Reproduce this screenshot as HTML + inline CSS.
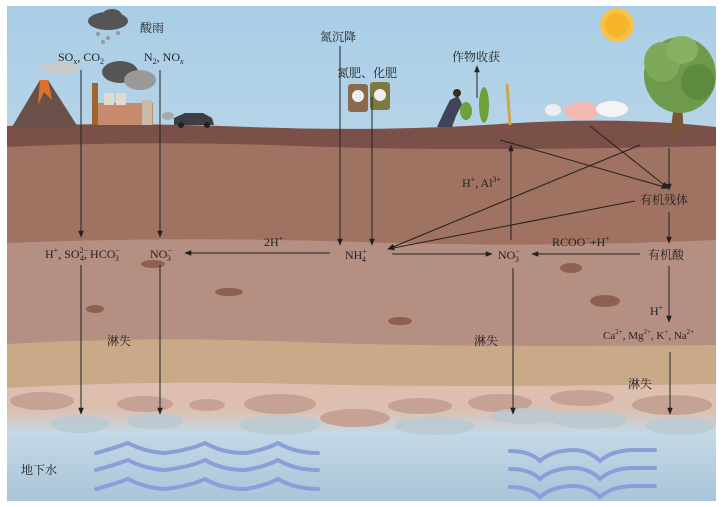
<!DOCTYPE html>
<html><head><meta charset="utf-8"><style>
html,body{margin:0;padding:0;background:#fff}
svg{display:block}
text{font-family:"Liberation Serif","Noto Serif CJK SC",serif;fill:#222}
</style></head><body>
<svg width="723" height="507" viewBox="0 0 723 507" xmlns="http://www.w3.org/2000/svg">
<defs>
<linearGradient id="sky" x1="0" y1="0" x2="0" y2="1"><stop offset="0" stop-color="#a9cde6"/><stop offset="1" stop-color="#dde9ef"/></linearGradient>
<linearGradient id="water" x1="0" y1="0" x2="0" y2="1"><stop offset="0" stop-color="#dcc0b0"/><stop offset="0.25" stop-color="#c4d8e6"/><stop offset="1" stop-color="#a9c5d8"/></linearGradient>
<marker id="a" viewBox="0 0 10 10" refX="9" refY="5" markerWidth="7" markerHeight="7" orient="auto-start-reverse"><path d="M0,1 L10,5 L0,9 z" fill="#222"/></marker>
</defs>
<rect x="7" y="6" width="709" height="495" fill="url(#sky)"/>
<path d="M7,126 Q120,122 250,127 T500,124 T716,127 V501 H7Z" fill="#7a5048"/>
<path d="M7,147 Q150,140 300,146 T716,146 V501 H7Z" fill="#9f7262"/>
<path d="M7,243 Q180,236 360,242 T716,240 V501 H7Z" fill="#b58f82"/>
<path d="M7,344 Q150,336 300,342 T716,345 V501 H7Z" fill="#c8aa88"/>
<path d="M7,388 Q150,380 300,384 T716,384 V501 H7Z" fill="#dcbfae"/>
<rect x="7" y="410" width="709" height="91" fill="url(#water)"/>
<g fill="#c6a295">
<ellipse cx="42" cy="401" rx="32" ry="9"/><ellipse cx="145" cy="404" rx="28" ry="8"/><ellipse cx="207" cy="405" rx="18" ry="6"/><ellipse cx="280" cy="404" rx="36" ry="10"/><ellipse cx="420" cy="406" rx="32" ry="8"/><ellipse cx="500" cy="403" rx="32" ry="9"/><ellipse cx="582" cy="398" rx="32" ry="8"/><ellipse cx="672" cy="405" rx="40" ry="10"/><ellipse cx="355" cy="418" rx="35" ry="9"/>
</g>
<g fill="#b9c9d2" opacity="0.8">
<ellipse cx="80" cy="424" rx="30" ry="9"/><ellipse cx="155" cy="421" rx="28" ry="8"/><ellipse cx="280" cy="425" rx="40" ry="10"/><ellipse cx="435" cy="426" rx="40" ry="9"/><ellipse cx="525" cy="416" rx="35" ry="8"/><ellipse cx="590" cy="420" rx="38" ry="9"/><ellipse cx="680" cy="426" rx="35" ry="9"/>
</g>
<g fill="#8f5f52">
<ellipse cx="153" cy="264" rx="12" ry="4"/><ellipse cx="95" cy="309" rx="9" ry="4"/><ellipse cx="229" cy="292" rx="14" ry="4"/><ellipse cx="400" cy="321" rx="12" ry="4"/><ellipse cx="571" cy="268" rx="11" ry="5"/><ellipse cx="605" cy="301" rx="15" ry="6"/>
</g>
<g fill="none" stroke="#8c9ed8" stroke-width="4" stroke-linecap="round">
<path d="M96,453 Q115,448 128,443 Q145,452 165,453 Q190,450 205,443 Q222,453 245,453 Q265,450 278,443 Q295,453 318,453"/>
<path d="M96,470 Q115,465 128,460 Q145,469 165,470 Q190,467 205,460 Q222,470 245,470 Q265,467 278,460 Q295,470 318,470"/>
<path d="M96,489 Q115,484 128,479 Q145,488 165,489 Q190,486 205,479 Q222,489 245,489 Q265,486 278,479 Q295,489 318,489"/>
<path d="M510,451 Q530,451 540,461 Q552,450 575,450 Q590,451 600,461 Q612,450 635,450 L655,450"/>
<path d="M510,469 Q530,469 540,479 Q552,468 575,468 Q590,469 600,479 Q612,468 635,468 L655,468"/>
<path d="M510,487 Q530,487 540,497 Q552,486 575,486 Q590,487 600,497 Q612,486 635,486 L655,486"/>
</g>
<path d="M12,127 L40,80 L48,80 L78,127Z" fill="#6a5048"/>
<path d="M40,80 L48,80 L52,100 L44,92 L38,105 Z" fill="#e0702a"/>
<ellipse cx="60" cy="68" rx="20" ry="6" fill="#c9c9c9"/>
<rect x="92" y="83" width="6" height="42" fill="#a0642e"/>
<rect x="98" y="103" width="55" height="22" fill="#c88a6c"/>
<rect x="104" y="93" width="10" height="12" fill="#e2d8ce"/><rect x="116" y="93" width="10" height="12" fill="#e2d8ce"/>
<rect x="142" y="100" width="10" height="25" fill="#c9b9a8"/>
<ellipse cx="120" cy="72" rx="18" ry="11" fill="#555"/><ellipse cx="140" cy="80" rx="16" ry="10" fill="#999"/>
<ellipse cx="108" cy="21" rx="20" ry="9" fill="#555"/><ellipse cx="112" cy="16" rx="10" ry="7" fill="#555"/>
<g fill="#999"><circle cx="98" cy="34" r="2"/><circle cx="108" cy="38" r="2"/><circle cx="118" cy="33" r="2"/><circle cx="103" cy="42" r="2"/></g>
<path d="M174,125 L174,118 L185,113 L203,113 L212,118 L214,125Z" fill="#3d3d44"/>
<circle cx="181" cy="125" r="3" fill="#222"/><circle cx="207" cy="125" r="3" fill="#222"/>
<ellipse cx="168" cy="116" rx="6" ry="4" fill="#aaa"/>
<rect x="348" y="84" width="20" height="28" rx="3" fill="#8a6a4f"/>
<rect x="370" y="82" width="20" height="28" rx="3" fill="#7e7a3e"/>
<circle cx="358" cy="96" r="6" fill="#eee"/><circle cx="380" cy="95" r="6" fill="#eee"/>
<circle cx="617" cy="25" r="17" fill="#f6c24a"/><circle cx="617" cy="25" r="12" fill="#f7b52a"/>
<path d="M437,127 L444,112 L450,100 L458,96 L462,104 L456,116 L452,127Z" fill="#3f4456"/>
<circle cx="457" cy="93" r="4" fill="#3b2a20"/>
<g fill="#6ea03c"><ellipse cx="466" cy="111" rx="6" ry="9"/><ellipse cx="484" cy="105" rx="5" ry="18"/></g>
<path d="M507,84 L510,125" stroke="#c9a74e" stroke-width="3"/>
<ellipse cx="553" cy="110" rx="8" ry="6" fill="#eee"/>
<ellipse cx="582" cy="111" rx="18" ry="9" fill="#f1b9b2"/>
<ellipse cx="612" cy="109" rx="16" ry="8" fill="#f4f4f4"/>
<path d="M676,90 L670,135 L684,135 L681,90Z" fill="#7a5538"/>
<ellipse cx="680" cy="75" rx="36" ry="38" fill="#6f9a4c"/><ellipse cx="662" cy="62" rx="18" ry="20" fill="#7ea95a"/><ellipse cx="698" cy="82" rx="17" ry="18" fill="#5d8a3f"/><ellipse cx="682" cy="50" rx="16" ry="14" fill="#86b062"/>
<g stroke="#222" stroke-width="1" fill="none" marker-end="url(#a)">
<line x1="81" y1="70" x2="81" y2="237"/>
<line x1="160" y1="70" x2="160" y2="237"/>
<line x1="340" y1="46" x2="340" y2="245"/>
<line x1="372" y1="97" x2="372" y2="245"/>
<line x1="477" y1="98" x2="477" y2="66"/>
<line x1="330" y1="253" x2="185" y2="253"/>
<line x1="392" y1="254" x2="492" y2="254"/>
<line x1="640" y1="254" x2="532" y2="254"/>
<line x1="511" y1="240" x2="511" y2="145"/>
<line x1="500" y1="140" x2="668" y2="188"/>
<line x1="590" y1="126" x2="668" y2="188"/>
<line x1="669" y1="148" x2="669" y2="190"/>
<line x1="635" y1="201" x2="388" y2="249"/>
<line x1="640" y1="145" x2="388" y2="249"/>
<line x1="669" y1="212" x2="669" y2="243"/>
<line x1="669" y1="266" x2="669" y2="322"/>
<line x1="670" y1="352" x2="670" y2="414"/>
<line x1="81" y1="265" x2="81" y2="414"/>
<line x1="160" y1="265" x2="160" y2="414"/>
<line x1="513" y1="268" x2="513" y2="414"/>
</g>
<g font-size="12">
<text x="140" y="32">酸雨</text>
<text x="58" y="61">SO<tspan font-size="8" dy="3">x</tspan><tspan dy="-3">, CO</tspan><tspan font-size="8" dy="3">2</tspan></text>
<text x="144" y="61">N<tspan font-size="8" dy="3">2</tspan><tspan dy="-3">, NO</tspan><tspan font-size="8" dy="3" font-style="italic">x</tspan></text>
<text x="320" y="41">氮沉降</text>
<text x="337" y="77">氮肥、化肥</text>
<text x="452" y="61">作物收获</text>
<text x="462" y="187">H<tspan font-size="8" dy="-5">+</tspan><tspan dy="5">, Al</tspan><tspan font-size="8" dy="-5">3+</tspan></text>
<text x="640" y="204">有机残体</text>
<text x="264" y="246">2H<tspan font-size="8" dy="-5">+</tspan></text>
<text x="552" y="246">RCOO<tspan font-size="8" dy="-5">−</tspan><tspan dy="5">+H</tspan><tspan font-size="8" dy="-5">+</tspan></text>
<text x="45" y="258">H<tspan font-size="8" dy="-5">+</tspan><tspan dy="5">, SO</tspan><tspan font-size="8" dy="-5">2−</tspan><tspan font-size="8" dx="-8" dy="8">4</tspan><tspan dy="-3">, HCO</tspan><tspan font-size="8" dy="-5">−</tspan><tspan font-size="8" dx="-5" dy="8">3</tspan></text>
<text x="150" y="258">NO<tspan font-size="8" dy="-5">−</tspan><tspan font-size="8" dx="-5" dy="8">3</tspan></text>
<text x="345" y="259">NH<tspan font-size="8" dy="-5">+</tspan><tspan font-size="8" dx="-5" dy="8">4</tspan></text>
<text x="498" y="259">NO<tspan font-size="8" dy="-5">−</tspan><tspan font-size="8" dx="-5" dy="8">3</tspan></text>
<text x="648" y="259">有机酸</text>
<text x="650" y="315">H<tspan font-size="8" dy="-5">+</tspan></text>
<text x="603" y="339" font-size="11">Ca<tspan font-size="7" dy="-5">2+</tspan><tspan dy="5">, Mg</tspan><tspan font-size="7" dy="-5">2+</tspan><tspan dy="5">, K</tspan><tspan font-size="7" dy="-5">+</tspan><tspan dy="5">, Na</tspan><tspan font-size="7" dy="-5">2+</tspan></text>
<text x="107" y="345">淋失</text>
<text x="474" y="345">淋失</text>
<text x="628" y="388">淋失</text>
<text x="21" y="474">地下水</text>
</g>
</svg>
</body></html>
